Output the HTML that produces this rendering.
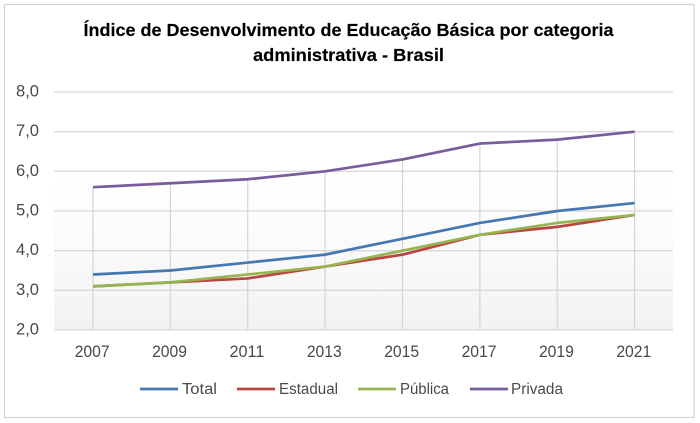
<!DOCTYPE html>
<html lang="pt">
<head>
<meta charset="utf-8">
<title>Índice de Desenvolvimento de Educação Básica</title>
<style>
html,body{margin:0;padding:0;background:#fff;width:700px;height:423px;overflow:hidden}
svg{display:block;font-family:"Liberation Sans",sans-serif}
</style>
</head>
<body>
<svg id="chart" width="700" height="423" viewBox="0 0 700 423">
<defs>
<linearGradient id="plotBg" x1="0" y1="0" x2="0" y2="1">
<stop offset="0" stop-color="#ffffff"/>
<stop offset="0.35" stop-color="#fcfcfc"/>
<stop offset="1" stop-color="#f2f2f2"/>
</linearGradient>
<filter id="soft" x="-2%" y="-2%" width="104%" height="104%"><feGaussianBlur stdDeviation="0.3"/></filter>
</defs>
<g id="root" filter="url(#soft)">
<rect x="4.5" y="4.5" width="689.5" height="413" fill="#fff" stroke="#d4d4d4" stroke-width="1.2"/>
<text x="348.5" y="36" text-anchor="middle" font-size="17.5" font-weight="700" fill="#000" stroke="#000" stroke-width="0.15" textLength="530" lengthAdjust="spacingAndGlyphs">Índice de Desenvolvimento de Educação Básica por categoria</text>
<text x="348.5" y="61" text-anchor="middle" font-size="17.5" font-weight="700" fill="#000" stroke="#000" stroke-width="0.15" textLength="191" lengthAdjust="spacingAndGlyphs">administrativa - Brasil</text>
<rect x="54" y="171" width="619" height="159" fill="url(#plotBg)"/>
<g id="grid"></g>
<g id="drops"></g>
<g id="yTicks"></g>
<g id="xTicks"></g>
<g id="series"></g>
<g id="legend"></g>
</g>
</svg>
<script>
const categories = ['2007', '2009', '2011', '2013', '2015', '2017', '2019', '2021'];
const yTickValues = [2, 3, 4, 5, 6, 7, 8];
const yTickLabels = ['2,0', '3,0', '4,0', '5,0', '6,0', '7,0', '8,0'];
const total = [3.4, 3.5, 3.7, 3.9, 4.3, 4.7, 5.0, 5.2];
const estadual = [3.1, 3.2, 3.3, 3.6, 3.9, 4.4, 4.6, 4.9];
const publica = [3.1, 3.2, 3.4, 3.6, 4.0, 4.4, 4.7, 4.9];
const privada = [5.6, 5.7, 5.8, 6.0, 6.3, 6.7, 6.8, 7.0];
const seriesNames = ['Total', 'Estadual', 'Pública', 'Privada'];

const NS = 'http://www.w3.org/2000/svg';
const plotLeft = 54, plotRight = 673, plotTop = 92, plotBottom = 330;
const yMin = 2, yMax = 8;
function xAt(i) {
  const band = (plotRight - plotLeft) / categories.length;
  return plotLeft + band * (i + 0.5);
}
function yAt(v) {
  return plotBottom - (v - yMin) / (yMax - yMin) * (plotBottom - plotTop);
}
function make(tag, attrs, parent) {
  const el = document.createElementNS(NS, tag);
  for (const k in attrs) el.setAttribute(k, attrs[k]);
  parent.appendChild(el);
  return el;
}

const gridG = document.getElementById('grid');
const yG = document.getElementById('yTicks');
yTickValues.forEach(function (v, i) {
  const line = make('line', {x1: plotLeft, x2: plotRight, y1: yAt(v), y2: yAt(v), stroke: '#d9d9d9', 'stroke-width': 1.3}, gridG);
  
  
  const t = make('text', {x: 16, y: yAt(v) + 4.5, 'font-size': 16.5, fill: '#4a4a4a', textLength: 23, lengthAdjust: 'spacingAndGlyphs'}, yG);
  t.textContent = yTickLabels[i];
  
  
});

const dropG = document.getElementById('drops');
const xG = document.getElementById('xTicks');
categories.forEach(function (c, i) {
  const top = Math.max(total[i], estadual[i], publica[i], privada[i]);
  const d = make('line', {x1: xAt(i) + 0.3, x2: xAt(i) + 0.3, y1: yAt(top), y2: plotBottom, stroke: '#d4d4d4', 'stroke-width': 1.2}, dropG);
  
  
  const t = make('text', {x: xAt(i) - 0.5, y: 357, 'text-anchor': 'middle', 'font-size': 16.5, fill: '#4a4a4a', textLength: 35, lengthAdjust: 'spacingAndGlyphs'}, xG);
  t.textContent = c;
  
  
});

const colors = {Total: '#4577b3', Estadual: '#b94542', 'Pública': '#94b550', Privada: '#785b9b'};
const serG = document.getElementById('series');
[total, estadual, publica, privada].forEach(function (vals, s) {
  const name = seriesNames[s];
  const pts = vals.map(function (v, i) { return (xAt(i) + 0.3) + ',' + yAt(v); }).join(' ');
  const p = make('polyline', {points: pts, fill: 'none', stroke: colors[name], 'stroke-width': 2.7, 'stroke-linejoin': 'round'}, serG);
  
  
});

const legendLineStart = [140, 237, 358, 470];
const legendTextStart = [182, 279, 400, 511];
const legendTextWidth = [35, 59, 49, 52];
const legG = document.getElementById('legend');
seriesNames.forEach(function (name, i) {
  const l = make('line', {x1: legendLineStart[i], x2: legendLineStart[i] + 38, y1: 389, y2: 389, stroke: colors[name], 'stroke-width': 2.7}, legG);
  
  
  const t = make('text', {x: legendTextStart[i], y: 394, 'font-size': 15.5, fill: '#4a4a4a', textLength: legendTextWidth[i], lengthAdjust: 'spacingAndGlyphs'}, legG);
  t.textContent = name;
  
  
});
</script>
</body>
</html>
